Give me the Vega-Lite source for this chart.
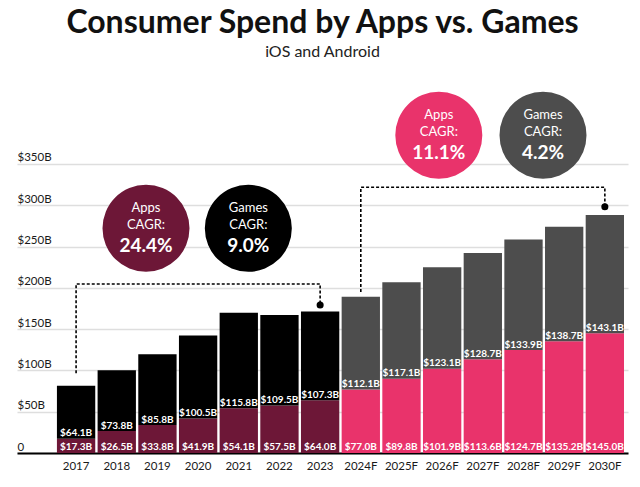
{
  "$schema": "https://vega.github.io/schema/vega-lite/v6.json",
  "width": 611,
  "height": 363,
  "autosize": {"type": "none"},
  "padding": {"left": 17, "top": 90, "right": 12, "bottom": 34},
  "background": "white",
  "title": {
    "text": "Consumer Spend by Apps vs. Games",
    "subtitle": "iOS and Android",
    "anchor": "middle",
    "font": "Lato",
    "fontSize": 32,
    "fontWeight": "bold",
    "color": "#111111",
    "subtitleFont": "Lato",
    "subtitleFontSize": 16,
    "subtitleColor": "#222222",
    "subtitlePadding": 4,
    "offset": 29
  },
  "config": {
    "view": {"stroke": null},
    "font": "Lato",
    "axisX": {
      "domainColor": "#000000",
      "domainWidth": 2,
      "ticks": false,
      "grid": false,
      "labelFontSize": 11.5,
      "labelColor": "#1a1a1a",
      "labelPadding": 7,
      "labelAngle": 0,
      "title": null
    },
    "axisY": {
      "domain": false,
      "ticks": false,
      "tickSize": 0,
      "grid": true,
      "gridColor": "#dedede",
      "gridWidth": 1.5,
      "labelAlign": "left",
      "labelBaseline": "alphabetic",
      "labelPadding": 0,
      "labelOffset": -3,
      "labelFontSize": 11.5,
      "labelColor": "#1a1a1a",
      "title": null
    }
  },
  "datasets": {
    "spend": [
      {"year": "2017", "category": "Apps", "series": "Apps (actual)", "value": 17.3},
      {"year": "2017", "category": "Games", "series": "Games (actual)", "value": 64.1},
      {"year": "2018", "category": "Apps", "series": "Apps (actual)", "value": 26.5},
      {"year": "2018", "category": "Games", "series": "Games (actual)", "value": 73.8},
      {"year": "2019", "category": "Apps", "series": "Apps (actual)", "value": 33.8},
      {"year": "2019", "category": "Games", "series": "Games (actual)", "value": 85.8},
      {"year": "2020", "category": "Apps", "series": "Apps (actual)", "value": 41.9},
      {"year": "2020", "category": "Games", "series": "Games (actual)", "value": 100.5},
      {"year": "2021", "category": "Apps", "series": "Apps (actual)", "value": 54.1},
      {"year": "2021", "category": "Games", "series": "Games (actual)", "value": 115.8},
      {"year": "2022", "category": "Apps", "series": "Apps (actual)", "value": 57.5},
      {"year": "2022", "category": "Games", "series": "Games (actual)", "value": 109.5},
      {"year": "2023", "category": "Apps", "series": "Apps (actual)", "value": 64.0},
      {"year": "2023", "category": "Games", "series": "Games (actual)", "value": 107.3},
      {"year": "2024F", "category": "Apps", "series": "Apps (forecast)", "value": 77.0},
      {"year": "2024F", "category": "Games", "series": "Games (forecast)", "value": 112.1},
      {"year": "2025F", "category": "Apps", "series": "Apps (forecast)", "value": 89.8},
      {"year": "2025F", "category": "Games", "series": "Games (forecast)", "value": 117.1},
      {"year": "2026F", "category": "Apps", "series": "Apps (forecast)", "value": 101.9},
      {"year": "2026F", "category": "Games", "series": "Games (forecast)", "value": 123.1},
      {"year": "2027F", "category": "Apps", "series": "Apps (forecast)", "value": 113.6},
      {"year": "2027F", "category": "Games", "series": "Games (forecast)", "value": 128.7},
      {"year": "2028F", "category": "Apps", "series": "Apps (forecast)", "value": 124.7},
      {"year": "2028F", "category": "Games", "series": "Games (forecast)", "value": 133.9},
      {"year": "2029F", "category": "Apps", "series": "Apps (forecast)", "value": 135.2},
      {"year": "2029F", "category": "Games", "series": "Games (forecast)", "value": 138.7},
      {"year": "2030F", "category": "Apps", "series": "Apps (forecast)", "value": 145.0},
      {"year": "2030F", "category": "Games", "series": "Games (forecast)", "value": 143.1}
    ],
    "connectors": [
      {"path": "actual", "year": "2017", "y": 96.5, "seq": 1},
      {"path": "actual", "year": "2017", "y": 204.7, "seq": 2},
      {"path": "actual", "year": "2023", "y": 204.7, "seq": 3},
      {"path": "actual", "year": "2023", "y": 179.2, "seq": 4},
      {"path": "forecast", "year": "2024F", "y": 195.0, "seq": 1},
      {"path": "forecast", "year": "2024F", "y": 321.8, "seq": 2},
      {"path": "forecast", "year": "2030F", "y": 321.8, "seq": 3},
      {"path": "forecast", "year": "2030F", "y": 298.3, "seq": 4}
    ],
    "badges": [
      {"pos": 1.716, "cy": 272.1, "series": "Apps (actual)", "label": "Apps", "cagr": "24.4%"},
      {"pos": 4.232, "cy": 272.1, "series": "Games (actual)", "label": "Games", "cagr": "9.0%"},
      {"pos": 8.916, "cy": 384.8, "series": "Apps (forecast)", "label": "Apps", "cagr": "11.1%"},
      {"pos": 11.478, "cy": 384.8, "series": "Games (forecast)", "label": "Games", "cagr": "4.2%"}
    ]
  },
  "layer": [
    {
      "layer": [
        {
          "data": {"name": "spend"},
          "mark": {"type": "bar"},
          "encoding": {
            "x": {
              "field": "year",
              "type": "ordinal",
              "title": null,
              "scale": {"paddingInner": 0.058, "paddingOuter": 0.54, "align": 0.909}
            },
            "y": {
              "field": "value",
              "type": "quantitative",
              "stack": "zero",
              "title": null,
              "scale": {"domain": [0, 439.6], "nice": false, "zero": true},
              "axis": {
                "values": [0, 50, 100, 150, 200, 250, 300, 350],
                "labelExpr": "datum.value == 0 ? '0' : '$' + datum.value + 'B'"
              }
            },
            "color": {
              "field": "series",
              "type": "nominal",
              "legend": null,
              "scale": {
                "domain": ["Apps (actual)", "Games (actual)", "Apps (forecast)", "Games (forecast)"],
                "range": ["#6d1737", "#000000", "#e9336b", "#4d4d4d"]
              }
            },
            "order": {"field": "category", "sort": "ascending"}
          }
        },
        {
          "data": {"name": "spend"},
          "transform": [{"filter": "datum.category == 'Apps'"}],
          "mark": {
            "type": "text",
            "baseline": "alphabetic",
            "dy": -3,
            "fontWeight": "bold",
            "fontSize": 10,
            "color": "white",
            "text": {"expr": "'$' + format(datum.value, '.1f') + 'B'"}
          },
          "encoding": {
            "x": {"field": "year", "type": "ordinal", "title": null},
            "y": {"datum": 0}
          }
        },
        {
          "data": {"name": "spend"},
          "transform": [{"pivot": "category", "value": "value", "groupby": ["year"]}],
          "mark": {
            "type": "text",
            "baseline": "alphabetic",
            "dy": -2.5,
            "fontWeight": "bold",
            "fontSize": 10,
            "color": "white",
            "text": {"expr": "'$' + format(datum.Games, '.1f') + 'B'"}
          },
          "encoding": {
            "x": {"field": "year", "type": "ordinal", "title": null},
            "y": {"field": "Apps", "type": "quantitative", "title": null}
          }
        },
        {
          "data": {"name": "connectors"},
          "mark": {"type": "line", "color": "#000000", "strokeWidth": 1.6, "strokeDash": [3, 2]},
          "encoding": {
            "x": {"field": "year", "type": "ordinal", "title": null},
            "y": {"field": "y", "type": "quantitative", "title": null},
            "detail": {"field": "path"},
            "order": {"field": "seq"}
          }
        },
        {
          "data": {"name": "connectors"},
          "transform": [{"filter": "datum.seq == 4"}],
          "mark": {"type": "point", "filled": true, "color": "#000000", "opacity": 1, "size": 50},
          "encoding": {
            "x": {"field": "year", "type": "ordinal", "title": null},
            "y": {"field": "y", "type": "quantitative", "title": null}
          }
        }
      ]
    },
    {
      "data": {"name": "badges"},
      "encoding": {
        "x": {
          "field": "pos",
          "type": "quantitative",
          "axis": null,
          "scale": {"domain": [-1.456, 13.568], "nice": false, "zero": false}
        },
        "y": {"field": "cy", "type": "quantitative", "title": null}
      },
      "layer": [
        {
          "mark": {"type": "point", "shape": "circle", "filled": true, "opacity": 1, "size": 7570},
          "encoding": {
            "color": {"field": "series", "type": "nominal", "legend": null}
          }
        },
        {
          "mark": {"type": "text", "baseline": "middle", "dy": -20, "fontSize": 13, "color": "white"},
          "encoding": {"text": {"field": "label"}}
        },
        {
          "mark": {"type": "text", "baseline": "middle", "dy": -3.5, "fontSize": 13, "color": "white", "text": "CAGR:"},
          "encoding": {}
        },
        {
          "mark": {"type": "text", "baseline": "middle", "dy": 18, "fontSize": 19, "fontWeight": "bold", "color": "white"},
          "encoding": {"text": {"field": "cagr"}}
        }
      ]
    }
  ],
  "resolve": {"scale": {"x": "independent"}}
}
